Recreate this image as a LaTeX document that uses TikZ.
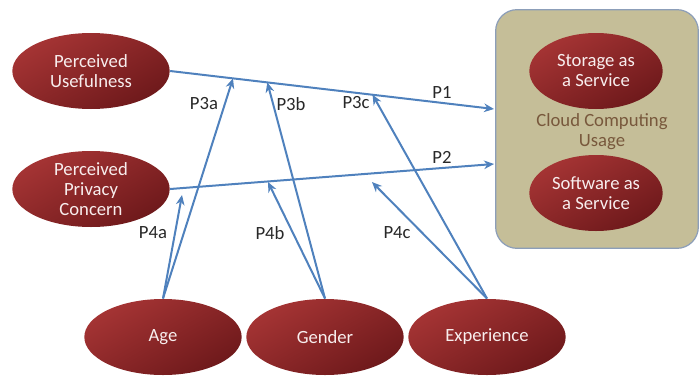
\documentclass[tikz,border=0pt]{standalone}
\usepackage{fontspec}
\setmainfont{Carlito}
\usetikzlibrary{arrows.meta,shapes.geometric}

\definecolor{ellred}{RGB}{165,52,52}
\definecolor{elldark}{RGB}{110,25,27}
\definecolor{elltext}{RGB}{248,238,238}
\definecolor{boxfill}{RGB}{197,190,152}
\definecolor{boxline}{RGB}{140,158,185}
\definecolor{boxtext}{RGB}{120,88,60}
\definecolor{arrowblue}{RGB}{79,129,189}
\definecolor{labelgrey}{RGB}{40,40,40}

\tikzset{every picture/.style={line width=0.75pt}}
\tikzset{
  construct/.style={ellipse, minimum width=118pt, minimum height=57pt, inner sep=0pt,
    top color=ellred, bottom color=elldark, shading angle=30, draw=none,
    text=elltext, align=center, font=\fontsize{14}{15}\selectfont},
  service/.style={construct, minimum width=100pt},
  usagebox/.style={rectangle, rounded corners=16pt, fill=boxfill, draw=boxline, line width=0.9pt,
    minimum width=152pt, minimum height=179pt},
  relpath/.style={draw=arrowblue, line width=1.5pt, -{Stealth[length=7.5pt,width=6.5pt]}},
  plabel/.style={text=labelgrey, font=\fontsize{14}{15}\selectfont, inner sep=0.75pt},
}

\begin{document}
\begin{tikzpicture}[x=0.75pt,y=0.75pt,yscale=-1,xscale=1]
\useasboundingbox (0,0) rectangle (699,375);

% Usage box
\node [usagebox] (cloud) at (597,129) {};
\node [service] (storage) at (596,71) {Storage as\\a Service};
\node [service] (software) at (596,193) {Software as\\a Service};
\node [text=boxtext, align=center, font=\fontsize{14}{15}\selectfont] (usage) at (602,132) {Cloud Computing\\Usage};

% Constructs
\node [construct] (useful) at (91,71) {Perceived\\Usefulness};
\node [construct] (privacy) at (91,189) {Perceived\\Privacy\\Concern};
\node [construct] (age) at (163,337) {Age};
\node [construct] (gender) at (325,337) {Gender};
\node [construct] (exper) at (487,337) {Experience};

% Arrow ends
\coordinate (p1end) at (494,109);
\coordinate (p2end) at (494,164);
\coordinate (p4aend) at (182,195);
\coordinate (p4bend) at (268,182);
\coordinate (p4cend) at (372,182);

%P1 and P2
\draw [relpath] (useful.east) -- (p1end) coordinate[pos=0.194] (p3aend) coordinate[pos=0.30] (p3bend) coordinate[pos=0.625] (p3cend);
\draw [relpath] (privacy.east) -- (p2end);

%P3
\draw [relpath] (age.north) -- (p3aend);
\draw [relpath] (gender.north) -- (p3bend);
\draw [relpath] (exper.north) -- (p3cend);
%P4
\draw [relpath] (age.north) -- (p4aend);
\draw [relpath] (gender.north) -- (p4bend);
\draw [relpath] (exper.north) -- (p4cend);

% Text Node
\node [plabel] (lp1) at (442,92) {P1};
\node [plabel] (lp2) at (442,157) {P2};
\node [plabel] (lp3a) at (204,104) {P3a};
\node [plabel] (lp3b) at (291,104) {P3b};
\node [plabel] (lp3c) at (356,103) {P3c};
\node [plabel] (lp4a) at (153,233) {P4a};
\node [plabel] (lp4b) at (270,233) {P4b};
\node [plabel] (lp4c) at (397,233) {P4c};

\end{tikzpicture}
\end{document}
